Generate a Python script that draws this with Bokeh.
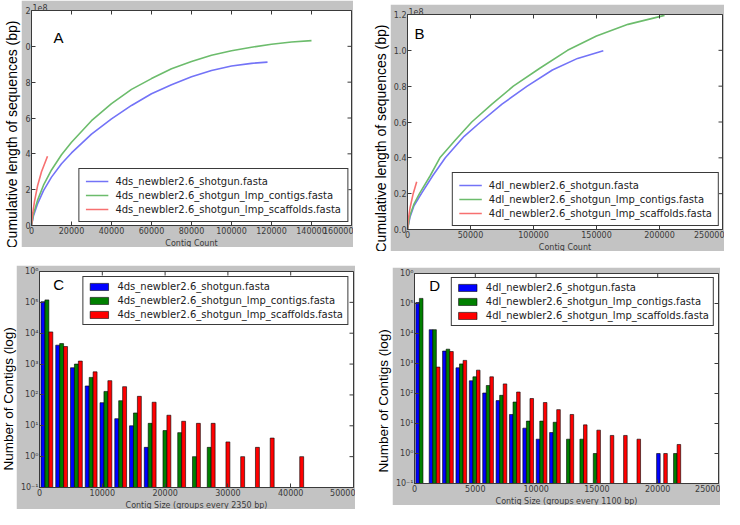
import math
from bokeh.plotting import figure
from bokeh.layouts import row, column
from bokeh.models import Range1d, FixedTicker, CustomJSTickFormatter, Spacer, Title
from bokeh.core.properties import value
from bokeh.embed import file_html
from bokeh.resources import INLINE

# ---------------- data ----------------
# Panel A: cumulative length (bp) vs contig count
a_labels = ["4ds_newbler2.6_shotgun.fasta",
            "4ds_newbler2.6_shotgun_lmp_contigs.fasta",
            "4ds_newbler2.6_shotgun_lmp_scaffolds.fasta"]
a_blue_x = [0, 1000, 3000, 6000, 10000, 15000, 20000, 30000, 40000, 50000, 60000,
            70000, 80000, 90000, 100000, 110000, 118000]
a_blue_y = [0, 0.55e8, 1.2e8, 1.95e8, 2.7e8, 3.45e8, 4.05e8, 5.1e8, 5.95e8, 6.7e8,
            7.35e8, 7.85e8, 8.3e8, 8.65e8, 8.9e8, 9.05e8, 9.12e8]
a_green_x = [0, 1000, 3000, 6000, 10000, 15000, 20000, 30000, 40000, 50000, 60000,
             70000, 80000, 90000, 100000, 110000, 120000, 130000, 140000]
a_green_y = [0, 0.65e8, 1.4e8, 2.25e8, 3.1e8, 3.95e8, 4.65e8, 5.85e8, 6.8e8, 7.6e8,
             8.2e8, 8.75e8, 9.15e8, 9.5e8, 9.75e8, 9.95e8, 10.12e8, 10.24e8, 10.32e8]
a_red_x = [0, 500, 1500, 3000, 5000, 8000]
a_red_y = [0, 0.6e8, 1.35e8, 2.2e8, 3.0e8, 3.87e8]
a_xticks = [0, 20000, 40000, 60000, 80000, 100000, 120000, 140000, 160000]
a_yticks = [0, 2e8, 4e8, 6e8, 8e8, 10e8, 12e8]

# Panel B
b_labels = ["4dl_newbler2.6_shotgun.fasta",
            "4dl_newbler2.6_shotgun_lmp_contigs.fasta",
            "4dl_newbler2.6_shotgun_lmp_scaffolds.fasta"]
b_blue_x = [0, 2000, 5000, 11000, 20000, 30000, 45000, 58000, 75000, 95000, 115000,
            135000, 155400]
b_blue_y = [0, 0.07e8, 0.13e8, 0.2e8, 0.3e8, 0.4e8, 0.52e8, 0.6e8, 0.7e8, 0.8e8,
            0.89e8, 0.955e8, 0.998e8]
b_green_x = [0, 2000, 5000, 9500, 18000, 25700, 38000, 51000, 67000, 84000, 105000,
             127000, 150000, 175000, 204000]
b_green_y = [0, 0.08e8, 0.14e8, 0.2e8, 0.3e8, 0.4e8, 0.5e8, 0.6e8, 0.7e8, 0.8e8,
             0.9e8, 1.0e8, 1.08e8, 1.145e8, 1.195e8]
b_red_x = [0, 500, 2000, 4500, 7300]
b_red_y = [0, 0.05e8, 0.12e8, 0.2e8, 0.267e8]
b_xticks = [0, 50000, 100000, 150000, 200000, 250000]
b_yticks = [0, 0.2e8, 0.4e8, 0.6e8, 0.8e8, 1.0e8, 1.2e8]

# Panel C: histogram, bins of 2350 bp
c_bin = 2350
c_blue = [1.05e5, 4100, 760, 195, 56, 17, 10, 2, 0, 0, 0, 0, 0, 0, 0, 0, 0, 0]
c_green = [1.2e5, 4600, 1000, 370, 130, 65, 26, 12, 7, 6, 1, 2, 0, 0, 0, 0, 0, 0]
c_red = [1.1e4, 3700, 1250, 560, 290, 185, 90, 58, 22, 14, 12, 12, 3, 1, 2, 4, 0, 1]
c_xticks = [0, 10000, 20000, 30000, 40000, 50000]

# Panel D: histogram, bins of 1100 bp
d_bin = 1100
d_blue = [1.08e5, 1.34e4, 2600, 720, 266, 104, 58, 20, 7, 3, 5, 0, 0, 0, 0, 0, 0, 0, 1, 0]
d_green = [1.48e5, 1.34e4, 3000, 970, 360, 185, 87, 52, 12, 12, 11, 3, 3, 1, 0, 0, 0, 0, 0, 1]
d_red = [0, 760, 2500, 1270, 600, 360, 209, 112, 68, 50, 29, 20, 9, 6, 4, 4, 3, 0, 1, 2]
d_xticks = [0, 5000, 10000, 15000, 20000, 25000]
log_ticks = [0.1, 1, 10, 100, 1000, 1e4, 1e5, 1e6]

# ---------------- styling ----------------
GRAY = "#c3c3c3"
FRAME = "#3a3a3a"
TICKFONT = "DejaVu Sans"
LABELFONT = "Liberation Sans"
LINE_COLORS = ["#7373f7", "#6cbc6c", "#f77070"]
BAR_COLORS = ["#0000ff", "#008000", "#ff0000"]

SUP = "{'-':'\u207b','0':'\u2070','1':'\u00b9','2':'\u00b2','3':'\u00b3','4':'\u2074','5':'\u2075','6':'\u2076','7':'\u2077','8':'\u2078','9':'\u2079'}"
log_fmt = CustomJSTickFormatter(code="""
const sup = %s;
const e = Math.round(Math.log10(tick));
return '10' + String(e).split('').map(c => sup[c]).join('');
""" % SUP)
int_fmt = CustomJSTickFormatter(code="return tick.toFixed(0);")


def style_axis(ax, ticks):
    ax.ticker = FixedTicker(ticks=ticks)
    ax.major_tick_in = 4
    ax.major_tick_out = 0
    ax.minor_tick_in = 0
    ax.minor_tick_out = 0
    ax.major_tick_line_color = FRAME
    ax.axis_line_color = FRAME
    ax.major_label_text_font = TICKFONT
    ax.major_label_text_font_size = "8px"
    ax.major_label_text_color = "#3a3a3a"
    ax.major_label_standoff = 1


def panel(width, height, xr, yr, borders, xlabel, ylog=False, title=None):
    l, r, t, b = borders
    p = figure(width=width, height=height, x_range=Range1d(*xr), y_range=Range1d(*yr),
               y_axis_type="log" if ylog else "linear",
               output_backend="svg", toolbar_location=None,
               min_border_left=l, min_border_right=r, min_border_top=t, min_border_bottom=b,
               border_fill_color=GRAY, background_fill_color="white",
               outline_line_color=FRAME, outline_line_width=1)
    p.grid.visible = False
    if title:
        p.title.text = title
        p.title.align = "left"
        p.title.offset = 1
        p.title.standoff = 0
        p.title.text_font = TICKFONT
        p.title.text_font_size = "8px"
        p.title.text_font_style = "normal"
        p.title.text_color = "#3a3a3a"
    p.add_layout(Title(text=xlabel, align="center", standoff=0, text_font=TICKFONT,
                       text_font_size="8px", text_font_style="normal",
                       text_color="#3a3a3a"), "below")
    return p


def mirror_ticks(p, xticks, yticks, xmax, ymax):
    # matplotlib-style inward ticks on the top and right edges
    p.scatter(x=[xmax] * len(yticks), y=yticks, marker="dash", size=8,
              line_color=FRAME, line_width=1)
    p.scatter(x=xticks, y=[ymax] * len(xticks), marker="dash", angle=math.pi / 2,
              size=8, line_color=FRAME, line_width=1)


def label_fig(w, h, text, size, offset, left_w):
    f = figure(width=w, height=h, x_range=Range1d(0, 1), y_range=Range1d(0, 1),
               x_axis_type=None, y_axis_type=None, output_backend="svg",
               toolbar_location=None, title=None,
               min_border_left=left_w, min_border_right=0, min_border_top=0,
               min_border_bottom=0, outline_line_color=None,
               border_fill_color="white", background_fill_color="white")
    f.add_layout(Title(text=text, align="left", vertical_align="middle", offset=offset,
                       standoff=0, text_font=LABELFONT, text_font_size=size,
                       text_font_style="normal", text_color="black"), "left")
    return f


def style_legend(p, location, glyph_h, pad, spacing, label_h, margin):
    lg = p.legend[0]
    lg.location = location
    lg.margin = margin
    lg.padding = pad
    lg.spacing = spacing
    lg.glyph_width = 23
    lg.glyph_height = glyph_h
    lg.label_height = label_h
    lg.label_standoff = 7
    lg.label_text_font = TICKFONT
    lg.label_text_font_size = "10px"
    lg.label_text_color = "#222"
    lg.border_line_color = FRAME
    lg.border_line_width = 1
    lg.border_line_alpha = 1
    lg.background_fill_alpha = 1


def letter(p, x, y, txt):
    p.text(x=[x], y=[y], text=[txt], text_align="center", text_baseline="middle",
           text_font=value(LABELFONT), text_font_size="15px", text_color="black")


def hist(p, bin_w, series, colors, labels):
    n = len(series)
    dr = 0.8
    w = dr * bin_w / n
    for k, (counts, col, lab) in enumerate(zip(series, colors, labels)):
        xs, tops = [], []
        for i, c in enumerate(counts):
            if c > 0:
                xs.append(i * bin_w + bin_w * (1 - dr) / 2 + w * (k + 0.5))
                tops.append(c)
        p.vbar(x=xs, top=tops, bottom=0.1, width=w, fill_color=col,
               line_color="black", line_width=0.6, legend_label=lab)


# ---------------- panel A ----------------
pa = panel(332, 247, (0, 160000), (0, 1.2e9), (10, 2, 10, 0), "Contig Count", title="1e8")
for xs, ys, col, lab in zip([a_blue_x, a_green_x, a_red_x], [a_blue_y, a_green_y, a_red_y],
                            LINE_COLORS, a_labels):
    pa.line(xs, ys, line_color=col, line_width=1.6, legend_label=lab)
style_axis(pa.xaxis[0], a_xticks)
pa.xaxis[0].formatter = int_fmt
style_axis(pa.yaxis[0], a_yticks)
pa.yaxis[0].formatter = CustomJSTickFormatter(code="return String(Math.round(tick/1e8) % 10);")
mirror_ticks(pa, a_xticks, a_yticks, 160000, 1.2e9)
letter(pa, 13500, 10.5e8, "A")
style_legend(pa, "bottom_right", 12, 6, 2, 12, 3)

# ---------------- panel B ----------------
pb = panel(334, 247, (0, 250000), (0, 1.2e8), (17, 2, 10, 0), "Contig Count", title="1e8")
for xs, ys, col, lab in zip([b_blue_x, b_green_x, b_red_x], [b_blue_y, b_green_y, b_red_y],
                            LINE_COLORS, b_labels):
    pb.line(xs, ys, line_color=col, line_width=1.6, legend_label=lab)
style_axis(pb.xaxis[0], b_xticks)
pb.xaxis[0].formatter = int_fmt
style_axis(pb.yaxis[0], b_yticks)
pb.yaxis[0].formatter = CustomJSTickFormatter(code="return (tick/1e8).toFixed(1);")
mirror_ticks(pb, b_xticks, b_yticks, 250000, 1.2e8)
letter(pb, 9500, 1.096e8, "B")
style_legend(pb, "bottom_right", 12, 6, 2, 12, 3)

# ---------------- panel C ----------------
pc = panel(339, 244, (0, 50000), (0.1, 1e6), (23, 2, 6, 0),
           "Contig Size (groups every 2350 bp)", ylog=True)
hist(pc, c_bin, [c_blue, c_green, c_red], BAR_COLORS, a_labels)
style_axis(pc.xaxis[0], c_xticks)
pc.xaxis[0].formatter = int_fmt
style_axis(pc.yaxis[0], log_ticks)
pc.yaxis[0].formatter = log_fmt
mirror_ticks(pc, c_xticks, log_ticks, 50000, 1e6)
letter(pc, 3050, 3.7e5, "C")
style_legend(pc, "top_right", 9, 4, 3, 11, 5)

# ---------------- panel D ----------------
pd_ = panel(328, 238, (0, 25000), (0.1, 1e6), (19, 2, 6, 0),
            "Contig Size (groups every 1100 bp)", ylog=True)
hist(pd_, d_bin, [d_blue, d_green, d_red], BAR_COLORS, b_labels)
style_axis(pd_.xaxis[0], d_xticks)
pd_.xaxis[0].formatter = int_fmt
style_axis(pd_.yaxis[0], log_ticks)
pd_.yaxis[0].formatter = log_fmt
mirror_ticks(pd_, d_xticks, log_ticks, 25000, 1e6)
letter(pd_, 1660, 4e5, "D")
style_legend(pd_, "top_right", 9, 4, 3, 11, 4)

# ---------------- layout ----------------
la = label_fig(21, 247, "Cumulative  length of sequences (bp)", "14px", -23, 20)
lb = label_fig(37, 251, "Cumulative  length of sequences (bp)", "14px", -23, 36)
lc = label_fig(16, 244, "Number  of Contigs (log)", "13.5px", 17, 15)
ld = label_fig(37, 244, "Number  of Contigs (log)", "13.5px", 15, 36)

top = row(la, pa, lb, column(Spacer(width=334, height=4), pb))
bottom = row(lc, pc, ld, column(Spacer(width=328, height=2), pd_))
layout = column(top, Spacer(width=10, height=14), bottom)

open("out.html", "w").write(file_html(layout, INLINE))
